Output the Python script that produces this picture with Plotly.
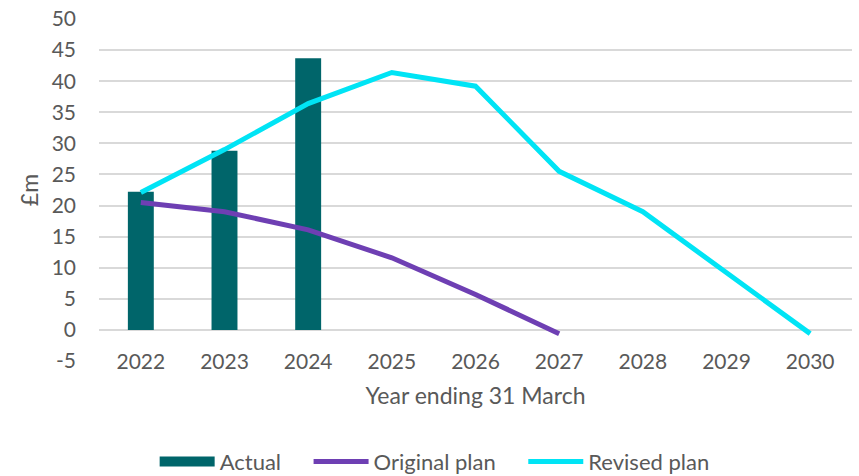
import plotly.graph_objects as go

years = ["2022", "2023", "2024", "2025", "2026", "2027", "2028", "2029", "2030"]
actual_years = ["2022", "2023", "2024"]
actual = [22.2, 28.8, 43.7]
original_years = ["2022", "2023", "2024", "2025", "2026", "2027"]
original_plan = [20.5, 19.0, 16.1, 11.6, 5.7, -0.6]
revised_plan = [22.1, 29.0, 36.4, 41.4, 39.2, 25.5, 19.0, 9.2, -0.6]
y_ticks = [-5, 0, 5, 10, 15, 20, 25, 30, 35, 40, 45, 50]
y_tick_labels = ["-5", "0", "5", "10", "15", "20", "25", "30", "35", "40", "45", "50"]

FONT = "Lato, Calibri, Carlito, sans-serif"
GREY = "#595959"
BAR = "#00656A"
PAD = "\u00a0" * 4

fig = go.Figure()
fig.add_trace(go.Bar(x=actual_years, y=actual, name="Actual", showlegend=False,
                     marker=dict(color=BAR, line=dict(width=0))))
# legend entry for the bars (wide rectangle swatch)
fig.add_trace(go.Scatter(x=[None], y=[None], name="Actual" + PAD, mode="lines",
                         line=dict(color=BAR, width=16)))
fig.add_trace(go.Scatter(x=original_years, y=original_plan, name="Original plan" + PAD,
                         mode="lines", line=dict(color="#6E3FB3", width=5)))
fig.add_trace(go.Scatter(x=years, y=revised_plan, name="Revised plan",
                         mode="lines", line=dict(color="#00E4F5", width=5)))

fig.update_layout(
    width=859, height=476,
    margin=dict(l=99, r=7, t=19, b=115, autoexpand=False),
    plot_bgcolor="white", paper_bgcolor="white",
    font=dict(family=FONT, size=21, color=GREY),
    bargap=0.69,
    showlegend=True,
    legend=dict(orientation="h", xref="container", yref="container",
                x=0.506, xanchor="center", y=0.03, yanchor="middle",
                font=dict(size=22, color=GREY), itemwidth=55,
                traceorder="normal"),
)
fig.update_xaxes(
    type="category", categoryorder="array", categoryarray=years,
    range=[-0.5, 8.5], showgrid=False, showline=False, ticks="",
    ticklabelstandoff=-14, automargin=False,
    title=dict(text="Year ending 31 March", standoff=15, font=dict(size=23, color=GREY)),
)
fig.update_yaxes(
    range=[-5, 50], tickvals=y_ticks, ticktext=y_tick_labels,
    showgrid=True, gridcolor="#D9D9D9",
    gridwidth=1.5, zeroline=False, showline=False, ticks="",
    ticklabelstandoff=22, automargin=False,
    title=dict(text="£m", standoff=6, font=dict(size=23, color=GREY)),
)

fig.write_html("out.html", config={"displayModeBar": False},
               post_script="document.body.style.margin='0';document.body.style.overflow='hidden';")
